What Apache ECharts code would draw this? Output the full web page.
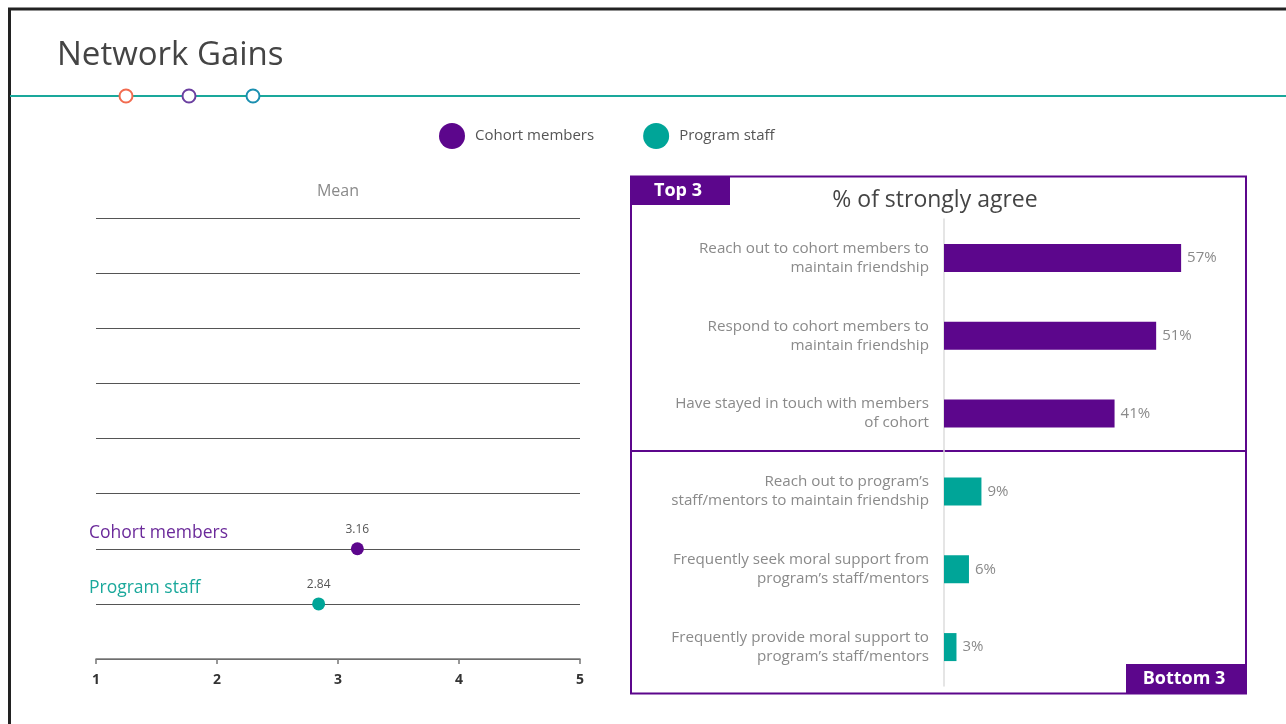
<!DOCTYPE html>
<html><head><meta charset="utf-8">
<script src="https://cdn.jsdelivr.net/npm/echarts@6/dist/echarts.min.js"></script>
<style>html,body{margin:0;padding:0;background:#fff}#c{width:1286px;height:724px}</style>
</head><body><div id="c"></div>
<script>
// ---- data ----
const meanSeriesNames = ['Cohort members', 'Program staff'];
const meanValues = [3.16, 2.84];
const meanRows = [2, 1];           // row positions on the mean panel
const meanTicks = [1, 2, 3, 4, 5];
const rowLabels = ['', 'Program staff', 'Cohort members', '', '', '', '', '', ''];

const agreeCategories = [
  'Reach out to cohort members to\nmaintain friendship',
  'Respond to cohort members to\nmaintain friendship',
  'Have stayed in touch with members\nof cohort',
  'Reach out to program\u2019s\nstaff/mentors to maintain friendship',
  'Frequently seek moral support from\nprogram\u2019s staff/mentors',
  'Frequently provide moral support to\nprogram\u2019s staff/mentors'
];
const agreeValues = [57, 51, 41, 9, 6, 3];

// ---- style ----
const PURPLE = '#5C068C';
const TEAL = '#00A598';
const FONT = '"Open Sans", sans-serif';

const chart = echarts.init(document.getElementById('c'), null, {renderer: 'canvas'});

chart.setOption({
  animation: false,
  textStyle: {fontFamily: FONT},
  legend: {
    left: 434, top: 118,
    icon: 'circle', itemWidth: 36, itemHeight: 26, itemGap: 49, symbolKeepAspect: true,
    textStyle: {color: '#555', fontSize: 15, fontFamily: FONT},
    itemStyle: {opacity: 1},
    data: meanSeriesNames
  },
  grid: [
    {left: 96, width: 484, top: 218, bottom: 65},
    {left: 944, width: 291.2, top: 219, bottom: 38}
  ],
  xAxis: [
    {
      gridIndex: 0, type: 'value', min: 1, max: 5, interval: 1,
      axisLine: {show: true, lineStyle: {color: '#777', width: 1.5}},
      axisTick: {show: true, length: 5, inside: false, lineStyle: {color: '#777', width: 1.5}},
      axisLabel: {color: '#333', fontWeight: 'bold', fontSize: 14, margin: 14,
        formatter: v => meanTicks.includes(v) ? String(v) : ''},
      splitLine: {show: false}
    },
    {
      gridIndex: 1, type: 'value', min: 0, max: 70,
      axisLine: {show: false}, axisTick: {show: false}, axisLabel: {show: false},
      splitLine: {show: false}
    }
  ],
  yAxis: [
    {
      gridIndex: 0, type: 'value', min: 0, max: 8, interval: 1,
      axisLine: {show: false}, axisTick: {show: false},
      axisLabel: {
        align: 'left', margin: 7, verticalAlign: 'bottom', padding: [0, 0, 7, 0],
        fontSize: 17.5,
        formatter: v => {
          const t = rowLabels[v] || '';
          if (!t) return '';
          return v === 2 ? '{p|' + t + '}' : '{t|' + t + '}';
        },
        rich: {p: {color: '#6B2A9A', fontSize: 17.5}, t: {color: '#1AA89B', fontSize: 17.5}}
      },
      splitLine: {show: true, lineStyle: {color: '#555', width: 1}}
    },
    {
      gridIndex: 1, type: 'category', inverse: true, data: agreeCategories,
      axisLine: {show: true, lineStyle: {color: '#ddd', width: 1.5}},
      axisTick: {show: false},
      axisLabel: {color: '#8a8a8a', fontSize: 15.2, lineHeight: 19, margin: 15, align: 'right'}
    }
  ],
  series: [
    {
      name: meanSeriesNames[0], type: 'scatter', xAxisIndex: 0, yAxisIndex: 0,
      symbolSize: 13, itemStyle: {color: PURPLE, opacity: 1},
      data: [[meanValues[0], meanRows[0]]],
      label: {show: true, position: 'top', distance: 7, color: '#555', fontSize: 12,
        formatter: p => p.value[0].toFixed(2)}
    },
    {
      name: meanSeriesNames[1], type: 'scatter', xAxisIndex: 0, yAxisIndex: 0,
      symbolSize: 13, itemStyle: {color: TEAL, opacity: 1},
      data: [[meanValues[1], meanRows[1]]],
      label: {show: true, position: 'top', distance: 7, color: '#555', fontSize: 12,
        formatter: p => p.value[0].toFixed(2)}
    },
    {
      name: 'agree', type: 'bar', xAxisIndex: 1, yAxisIndex: 1,
      barWidth: 28,
      itemStyle: {color: p => p.dataIndex < 3 ? PURPLE : TEAL},
      label: {show: true, position: 'right', distance: 6, color: '#8a8a8a', fontSize: 15,
        formatter: p => p.value + '%'},
      data: agreeValues
    }
  ],
  graphic: [
    {type: 'rect', shape: {x: 9.5, y: 9, width: 1400, height: 800},
      style: {fill: null, stroke: '#222', lineWidth: 3}, silent: true},
    {type: 'text', left: 57, top: 39,
      style: {text: 'Network Gains', fill: '#444', fontSize: 33, fontFamily: FONT}},
    {type: 'line', shape: {x1: 10, y1: 96, x2: 1286, y2: 96},
      style: {stroke: '#1AA89B', lineWidth: 2}},
    {type: 'circle', shape: {cx: 126, cy: 96, r: 6.5}, style: {fill: '#fff', stroke: '#F26B4F', lineWidth: 2}},
    {type: 'circle', shape: {cx: 189, cy: 96, r: 6.5}, style: {fill: '#fff', stroke: '#6B3FA0', lineWidth: 2}},
    {type: 'circle', shape: {cx: 253, cy: 96, r: 6.5}, style: {fill: '#fff', stroke: '#1A8FB0', lineWidth: 2}},
    {type: 'text', x: 338, y: 191,
      style: {text: 'Mean', fill: '#8a8a8a', fontSize: 16, fontFamily: FONT, align: 'center', verticalAlign: 'middle'}},
    {type: 'rect', shape: {x: 631, y: 176.5, width: 615, height: 517},
      style: {fill: null, stroke: PURPLE, lineWidth: 2}},
    {type: 'line', shape: {x1: 631, y1: 451, x2: 1246, y2: 451},
      style: {stroke: PURPLE, lineWidth: 2}},
    {type: 'rect', shape: {x: 631, y: 176, width: 99, height: 29}, style: {fill: PURPLE}},
    {type: 'text', x: 678, y: 190.5,
      style: {text: 'Top 3', fill: '#fff', fontSize: 18, fontWeight: 'bold', fontFamily: FONT, align: 'center', verticalAlign: 'middle'}},
    {type: 'rect', shape: {x: 1126, y: 664, width: 120, height: 29}, style: {fill: PURPLE}},
    {type: 'text', x: 1184, y: 679,
      style: {text: 'Bottom 3', fill: '#fff', fontSize: 18, fontWeight: 'bold', fontFamily: FONT, align: 'center', verticalAlign: 'middle'}},
    {type: 'text', x: 935, y: 200,
      style: {text: '% of strongly agree', fill: '#444', fontSize: 23, fontFamily: FONT, align: 'center', verticalAlign: 'middle'}}
  ]
});
</script>
</body></html>
